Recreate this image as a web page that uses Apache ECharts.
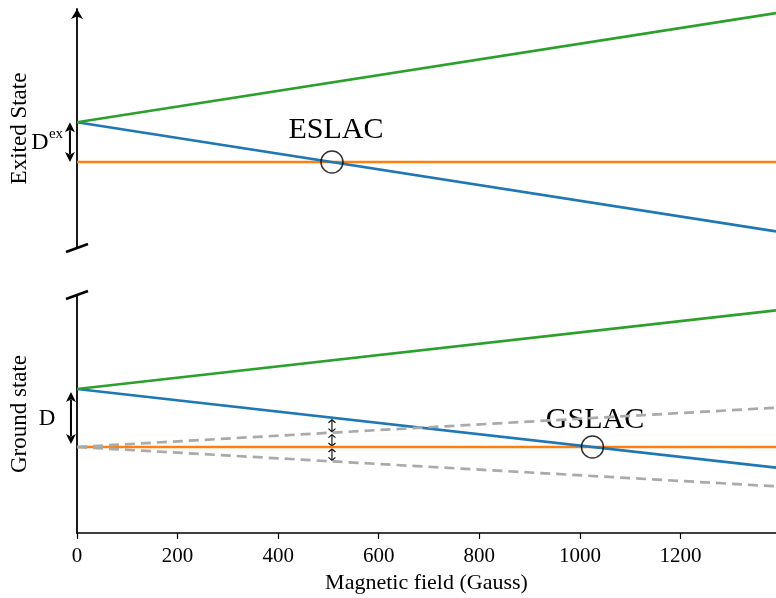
<!DOCTYPE html>
<html><head><meta charset="utf-8">
<script src="https://cdn.jsdelivr.net/npm/echarts@6/dist/echarts.min.js"></script>
<style>html,body{margin:0;padding:0;background:#fff}#c{width:776px;height:598px}</style>
</head><body><div id="c"></div><script>
// Magnetic field endpoints (Gauss)
const fieldEnds = [0, 1390];
const xTicks = [0, 200, 400, 600, 800, 1000, 1200];
// Excited state levels (MHz) at field endpoints
const exPlus  = [1420, 5315];
const exMinus = [1420, -2475];
const exZero  = [0, 0];
// Ground state levels (MHz) at field endpoints
const gsPlus  = [2870, 6762];
const gsMinus = [2870, -1022];
const gsZero  = [0, 0];
const gsGuideUp   = [0, 1946];
const gsGuideDown = [0, -1946];
// Level anti-crossings [field, energy]
const eslacPoint = [507, 0];
const gslacPoint = [1025, 0];
// Splittings
const Dex = 1420, Dgs = 2870;
const arrowField = 507;

const FONT = 'Liberation Serif';
const GREEN = '#2ca02c', BLUE = '#1f77b4', ORANGE = '#ff7f0e', GRAY = '#aaaaaa';

function pts(vals) { return fieldEnds.map((f, i) => [f, vals[i]]); }
function line(vals, color, gi, dashed) {
  return {
    type: 'line', xAxisIndex: gi, yAxisIndex: gi, data: pts(vals), showSymbol: false,
    symbol: 'none', silent: true, animation: false,
    lineStyle: { color: color, width: 2.7, type: dashed ? [10, 6] : 'solid' }
  };
}

const chart = echarts.init(document.getElementById('c'), null, { renderer: 'canvas' });
chart.setOption({
  animation: false,
  backgroundColor: '#fff',
  grid: [
    { left: 77, right: 0, top: 9, height: 239 },
    { left: 77, right: 0, top: 295, height: 238 }
  ],
  xAxis: [
    { gridIndex: 0, type: 'value', min: fieldEnds[0], max: fieldEnds[1], show: false },
    { gridIndex: 1, type: 'value', min: fieldEnds[0], max: fieldEnds[1], interval: 200,
      name: 'Magnetic field (Gauss)', nameLocation: 'middle', nameGap: 39,
      nameTextStyle: { fontFamily: FONT, fontSize: 22, color: '#000' },
      axisLine: { onZero: false, lineStyle: { color: '#000', width: 1.5 } },
      axisTick: { show: true, length: 6, customValues: xTicks, lineStyle: { color: '#000', width: 1.2 } },
      axisLabel: { customValues: xTicks, margin: 13, fontFamily: FONT, fontSize: 21, color: '#000',
        formatter: v => String(v) },
      splitLine: { show: false } }
  ],
  yAxis: [
    { gridIndex: 0, type: 'value', min: -3071, max: 5464,
      name: 'Exited State', nameLocation: 'middle', nameGap: 46, nameRotate: 90,
      nameTextStyle: { fontFamily: FONT, fontSize: 23, color: '#000' },
      axisLine: { show: true, onZero: false, symbol: ['none', 'arrow'], symbolSize: [9, 10],
        lineStyle: { color: '#000', width: 1.8 } },
      axisTick: { show: false }, axisLabel: { show: false }, splitLine: { show: false } },
    { gridIndex: 1, type: 'value', min: -4257, max: 7525,
      name: 'Ground state', nameLocation: 'middle', nameGap: 46, nameRotate: 90,
      nameTextStyle: { fontFamily: FONT, fontSize: 23, color: '#000' },
      axisLine: { show: true, onZero: false, lineStyle: { color: '#000', width: 1.8 } },
      axisTick: { show: false }, axisLabel: { show: false }, splitLine: { show: false } }
  ],
  series: [
    line(exZero, ORANGE, 0), line(exMinus, BLUE, 0), line(exPlus, GREEN, 0),
    line(gsZero, ORANGE, 1), line(gsMinus, BLUE, 1), line(gsPlus, GREEN, 1),
    line(gsGuideUp, GRAY, 1, true), line(gsGuideDown, GRAY, 1, true),
    { type: 'scatter', xAxisIndex: 0, yAxisIndex: 0, data: [eslacPoint], symbol: 'circle', symbolSize: 22,
      silent: true, z: 5, itemStyle: { color: 'rgba(0,0,0,0)', borderColor: '#000', borderWidth: 1.5 } },
    { type: 'scatter', xAxisIndex: 1, yAxisIndex: 1, data: [gslacPoint], symbol: 'circle', symbolSize: 22,
      silent: true, z: 5, itemStyle: { color: 'rgba(0,0,0,0)', borderColor: '#000', borderWidth: 1.5 } }
  ]
});

function px(gi, x, y) { return chart.convertToPixel({ gridIndex: gi }, [x, y]); }

function bigArrow(x, yTop, yBot) {
  const h = 10, w = 5;
  return [
    { type: 'line', shape: { x1: x, y1: yTop + h - 2, x2: x, y2: yBot - h + 2 }, style: { stroke: '#000', lineWidth: 2 } },
    { type: 'polygon', shape: { points: [[x, yTop], [x - w, yTop + h], [x, yTop + h - 2.5], [x + w, yTop + h]] }, style: { fill: '#000' } },
    { type: 'polygon', shape: { points: [[x, yBot], [x - w, yBot - h], [x, yBot - h + 2.5], [x + w, yBot - h]] }, style: { fill: '#000' } }
  ];
}
function smallArrow(x, yTop, yBot) {
  const h = 3, w = 3.5;
  return [
    { type: 'line', shape: { x1: x, y1: yTop, x2: x, y2: yBot }, style: { stroke: '#000', lineWidth: 1.1 } },
    { type: 'polyline', shape: { points: [[x - w, yTop + h], [x, yTop], [x + w, yTop + h]] }, style: { stroke: '#000', lineWidth: 1.1, fill: null } },
    { type: 'polyline', shape: { points: [[x - w, yBot - h], [x, yBot], [x + w, yBot - h]] }, style: { stroke: '#000', lineWidth: 1.1, fill: null } }
  ];
}
function txt(x, y, s, size, align) {
  return { type: 'text', x: x, y: y, style: { text: s, fontFamily: FONT, fontSize: size, fill: '#000',
    align: align || 'center', verticalAlign: 'middle' } };
}

const els = [];
// axis break marks
const topBot = px(0, 0, -3071), botTop = px(1, 0, 7525);
[topBot, botTop].forEach(p => {
  els.push({ type: 'line', shape: { x1: p[0] - 11, y1: p[1] + 4, x2: p[0] + 11, y2: p[1] - 4 },
    style: { stroke: '#000', lineWidth: 2.5 } });
});
// D^ex arrow
const a1 = px(0, -14, Dex), a2 = px(0, -14, 0);
els.push(...bigArrow(a1[0], a1[1], a2[1]));
els.push(txt(a1[0] - 30, (a1[1] + a2[1]) / 2 + 1, 'D', 24));
els.push(txt(a1[0] - 14, (a1[1] + a2[1]) / 2 - 8, 'ex', 15));
// D arrow (ground)
const b1 = px(1, -12, Dgs), b2 = px(1, -12, 0);
els.push(...bigArrow(b1[0], b1[1] + 3, b2[1] - 3));
els.push(txt(b1[0] - 24, (b1[1] + b2[1]) / 2 + 1, 'D', 23));
// small arrows at ~500 G
const yBlue = Dgs - 2.8 * arrowField, yUp = 1.4 * arrowField;
const s1 = px(1, arrowField, yBlue), s2 = px(1, arrowField, yUp), s3 = px(1, arrowField, 0), s4 = px(1, arrowField, -yUp);
els.push(...smallArrow(s1[0], s1[1] + 2, s2[1] - 1));
els.push(...smallArrow(s1[0], s2[1] + 2, s3[1] - 1));
els.push(...smallArrow(s1[0], s3[1] + 2, s4[1] - 1));
// labels
const e = px(0, 515, 1125), g = px(1, 1030, 1337);
els.push(txt(e[0], e[1], 'ESLAC', 30));
els.push(txt(g[0], g[1], 'GSLAC', 30));
chart.setOption({ graphic: els });
</script></body></html>
